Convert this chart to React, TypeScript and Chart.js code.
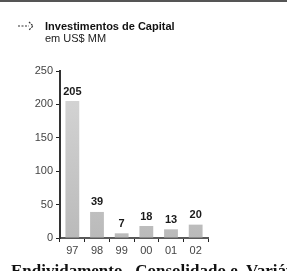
import React, { useEffect, useRef } from 'react';
import { Chart, registerables } from 'chart.js';
Chart.register(...registerables);

const categories = ['97', '98', '99', '00', '01', '02'];
const capex = [205, 39, 7, 18, 13, 20];
const yMin = 0;
const yMax = 250;
const yStep = 50;
const titleText = 'Investimentos de Capital';
const subtitleText = 'em US$ MM';
const footerText = 'Endividamento   Consolidado e  Variável';

const FONT = '"Liberation Sans", Arial, sans-serif';

export default function App() {
  const ref = useRef<HTMLCanvasElement>(null);
  useEffect(() => {
    document.body.style.margin = '0';
    const ctx = ref.current!.getContext('2d')!;
    const labelPlugin = {
      id: 'valueLabels',
      afterDatasetsDraw(chart: any) {
        const c = chart.ctx;
        const meta = chart.getDatasetMeta(0);
        c.save();
        c.font = 'bold 11px ' + FONT;
        c.fillStyle = '#1a1a1a';
        c.textAlign = 'center';
        c.textBaseline = 'bottom';
        meta.data.forEach((el: any, i: number) => {
          c.fillText(String(capex[i]), el.x, el.y - 4);
        });
        c.restore();
      },
    };
    const chart = new Chart(ctx, {
      type: 'bar',
      data: {
        labels: categories,
        datasets: [
          {
            data: capex,
            backgroundColor: (c: any) => {
              const ch = c.chart;
              const ca = ch.chartArea;
              if (!ca) return '#c8c8c8';
              const g = ch.ctx.createLinearGradient(0, ca.top, 0, ca.bottom);
              g.addColorStop(0, '#d8d8d8');
              g.addColorStop(1, '#bababa');
              return g;
            },
            barPercentage: 0.56,
            categoryPercentage: 1,
          },
        ],
      },
      options: {
        animation: false,
        responsive: false,
        layout: { padding: { top: 71, right: 79, left: 0, bottom: 0 } },
        plugins: { legend: { display: false }, tooltip: { enabled: false } },
        scales: {
          x: {
            grid: { drawOnChartArea: false, tickLength: 4, tickColor: '#222', offset: true },
            border: { color: '#5a5a5a', width: 2 },
            ticks: { font: { family: FONT, size: 11 }, color: '#444', padding: 2 },
            afterFit: (s: any) => { s.height = 33; },
          },
          y: {
            min: yMin,
            max: yMax,
            ticks: { stepSize: yStep, font: { family: FONT, size: 11 }, color: '#444', padding: 3 },
            grid: { drawOnChartArea: false, tickLength: 4, tickColor: '#222' },
            border: { color: '#333', width: 2 },
            afterFit: (s: any) => { s.width = 60; },
          },
        },
      },
      plugins: [labelPlugin],
    } as any);
    return () => chart.destroy();
  }, []);

  return (
    <div style={{ position: 'relative', width: 287, height: 271, overflow: 'hidden', background: '#fff' }}>
      <div style={{ position: 'absolute', left: 0, top: 0, width: 287, height: 2, background: '#555' }} />
      <canvas ref={ref} width={287} height={271} style={{ position: 'absolute', left: 0, top: 0, width: 287, height: 271 }} />
      <svg style={{ position: 'absolute', left: 18, top: 20 }} width={18} height={12}>
        <line x1={0} y1={6} x2={11} y2={6} stroke="#333" strokeWidth={1.2} strokeDasharray="2,1.5" />
        <polyline points="11,2 15,6 11,10" fill="none" stroke="#333" strokeWidth={1.2} strokeDasharray="2,1" />
      </svg>
      <div style={{ position: 'absolute', left: 45, top: 20, fontFamily: FONT, fontSize: 11, lineHeight: '12px', color: '#111' }}>
        <div style={{ fontWeight: 'bold' }}>{titleText}</div>
        <div style={{ color: '#222' }}>{subtitleText}</div>
      </div>
      <div style={{ position: 'absolute', left: 11, top: 261, whiteSpace: 'pre', fontFamily: '"Liberation Serif", serif', fontWeight: 'bold', fontSize: 17, lineHeight: '20px', color: '#111' }}>
        {footerText}
      </div>
    </div>
  );
}
